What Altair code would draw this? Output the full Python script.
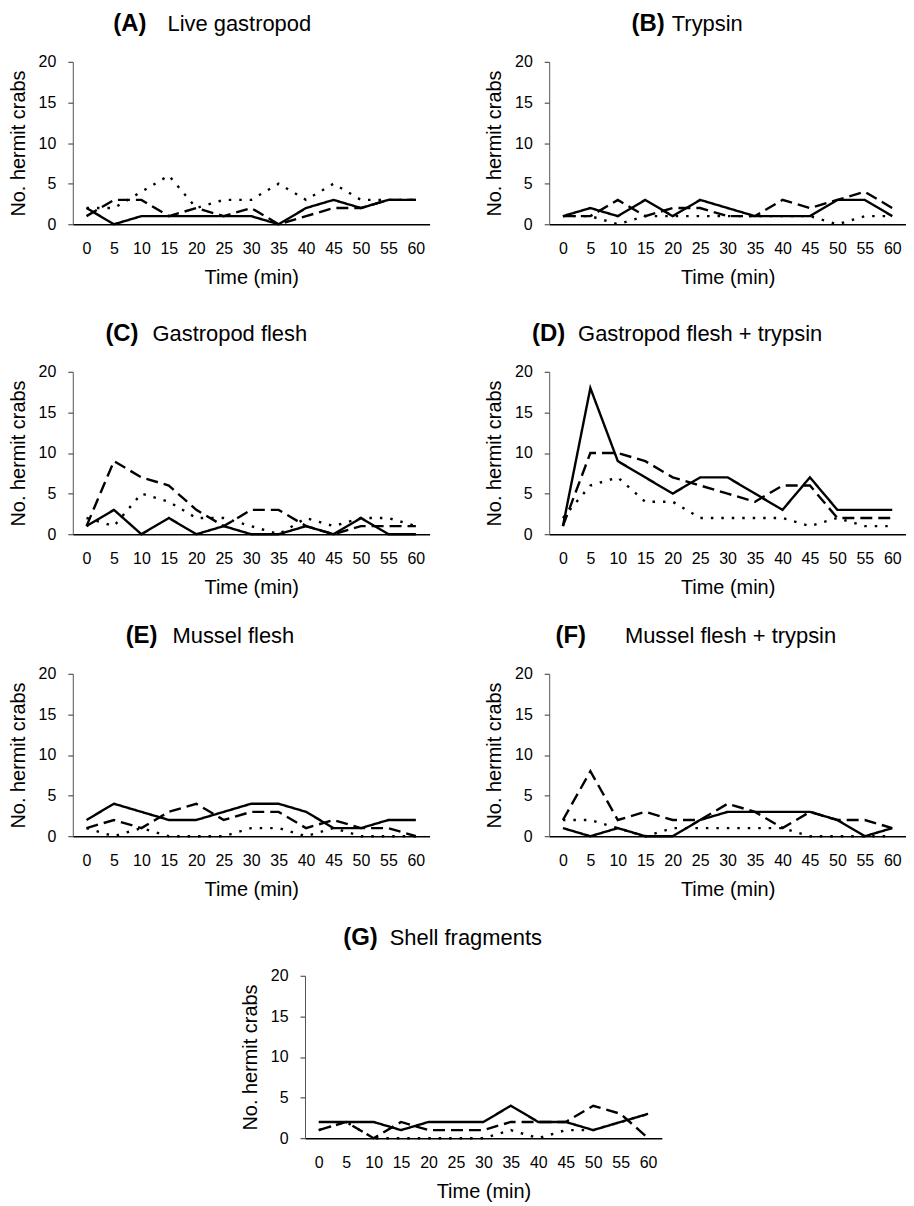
import altair as alt
import pandas as pd

times = [0, 5, 10, 15, 20, 25, 30, 35, 40, 45, 50, 55, 60]

# (A) Live gastropod
a_solid = [2, 0, 1, 1, 1, 1, 1, 0, 2, 3, 2, 3, 3]
a_dashed = [1, 3, 3, 1, 2, 1, 2, 0, 1, 2, 2, 3, 3]
a_dotted = [2, 2, 4, 6, 2, 3, 3, 5, 3, 5, 3, 3, 3]
# (B) Trypsin
b_solid = [1, 2, 1, 3, 1, 3, 2, 1, 1, 1, 3, 3, 1]
b_dashed = [1, 1, 3, 1, 2, 2, 1, 1, 3, 2, 3, 4, 2]
b_dotted = [1, 1, 0, 1, 1, 1, 1, 1, 1, 1, 0, 1, 1]
# (C) Gastropod flesh
c_solid = [1, 3, 0, 2, 0, 1, 0, 0, 1, 0, 2, 0, 0]
c_dashed = [1, 9, 7, 6, 3, 1, 3, 3, 1, 0, 1, 1, 1]
c_dotted = [2, 1, 5, 4, 2, 2, 1, 0, 2, 1, 2, 2, 1]
# (D) Gastropod flesh + trypsin
d_solid = [1, 18, 9, 7, 5, 7, 7, 5, 3, 7, 3, 3, 3]
d_dashed = [1, 10, 10, 9, 7, 6, 5, 4, 6, 6, 2, 2, 2]
d_dotted = [2, 6, 7, 4, 4, 2, 2, 2, 2, 1, 2, 1, 1]
# (E) Mussel flesh
e_solid = [2, 4, 3, 2, 2, 3, 4, 4, 3, 1, 1, 2, 2]
e_dashed = [1, 2, 1, 3, 4, 2, 3, 3, 1, 2, 1, 1, 0]
e_dotted = [1, 0, 1, 0, 0, 0, 1, 1, 0, 1, 0, 0, 0]
# (F) Mussel flesh + trypsin
f_solid = [1, 0, 1, 0, 0, 2, 3, 3, 3, 3, 2, 0, 1]
f_dashed = [2, 8, 2, 3, 2, 2, 4, 3, 1, 3, 2, 2, 1]
f_dotted = [2, 2, 1, 0, 1, 1, 1, 1, 1, 0, 0, 0, 0]
# (G) Shell fragments
g_solid = [2, 2, 2, 1, 2, 2, 2, 4, 2, 2, 1, 2, 3]
g_dashed = [1, 2, 0, 2, 1, 1, 1, 2, 2, 2, 4, 3, 0]
g_dotted = [1, 2, 0, 0, 0, 0, 0, 1, 0, 1, 1, 2, 3]

panel_letters = ["(A)", "(B)", "(C)", "(D)", "(E)", "(F)", "(G)"]
panel_names = ["Live gastropod", "Trypsin", "Gastropod flesh",
               "Gastropod flesh + trypsin", "Mussel flesh",
               "Mussel flesh + trypsin", "Shell fragments"]

FONT = "Liberation Sans"
series_names = ["solid", "dashed", "dotted"]


def panel(solid, dashed, dotted, letter, name, letter_right, name_left):
    rows = []
    for s, vals in zip(series_names, [solid, dashed, dotted]):
        for t, v in zip(times, vals):
            rows.append({"t": t, "v": v, "s": s})
    df = pd.DataFrame(rows)
    lines = alt.Chart(df).mark_line(color="black", strokeWidth=2.4, strokeCap="butt").encode(
        x=alt.X("t:O", sort=times, title="Time (min)",
                axis=alt.Axis(labelAngle=0, ticks=True, tickSize=0, labelPadding=16,
                              domainColor="black", domainWidth=1.5,
                              titlePadding=11)),
        y=alt.Y("v:Q", title="No. hermit crabs",
                scale=alt.Scale(domain=[0, 20], nice=False),
                axis=alt.Axis(values=[0, 5, 10, 15, 20], grid=False, tickSize=5,
                              labelPadding=12, titlePadding=10,
                              domainColor="#555555", tickColor="#333333")),
        strokeDash=alt.StrokeDash("s:N", scale=alt.Scale(domain=series_names,
                                  range=[[1, 0], [12, 6], [2.5, 8]]), legend=None),
        detail="s:N",
    )
    t1 = alt.Chart(pd.DataFrame({"lab": [letter]})).mark_text(
        font=FONT, fontSize=24, fontWeight="bold", align="right", baseline="middle"
    ).encode(text="lab:N", x=alt.value(letter_right), y=alt.value(-38))
    t2 = alt.Chart(pd.DataFrame({"lab": [name]})).mark_text(
        font=FONT, fontSize=22, align="left", baseline="middle"
    ).encode(text="lab:N", x=alt.value(name_left), y=alt.value(-38))
    return alt.layer(lines, t1, t2).properties(width=358, height=163)


pA = panel(a_solid, a_dashed, a_dotted, panel_letters[0], panel_names[0], 74, 95)
pB = panel(b_solid, b_dashed, b_dotted, panel_letters[1], panel_names[1], 116, 123)
pC = panel(c_solid, c_dashed, c_dotted, panel_letters[2], panel_names[2], 66, 80)
pD = panel(d_solid, d_dashed, d_dotted, panel_letters[3], panel_names[3], 16, 29)
pE = panel(e_solid, e_dashed, e_dotted, panel_letters[4], panel_names[4], 85, 100)
pF = panel(f_solid, f_dashed, f_dotted, panel_letters[5], panel_names[5], 37, 76)
pG = panel(g_solid, g_dashed, g_dotted, panel_letters[6], panel_names[6], 73, 85)

spacer = alt.Chart(pd.DataFrame({"a": [0]})).mark_point(opacity=0).encode(
    x=alt.value(0), y=alt.value(0)
).properties(width=168, height=10)

row1 = alt.hconcat(pA, pB, spacing=55)
row2 = alt.hconcat(pC, pD, spacing=55)
row3 = alt.hconcat(pE, pF, spacing=55)
row4 = alt.hconcat(spacer, pG, spacing=0)

top = alt.vconcat(row1, row2, spacing=35)
bottom = alt.vconcat(row3, row4, spacing=27)

chart = alt.vconcat(top, bottom, spacing=27).properties(
    padding={"left": 0, "top": 2, "right": 0, "bottom": 0}
).configure_view(stroke=None).configure_axis(
    labelFont=FONT, titleFont=FONT, labelFontSize=16, titleFontSize=20,
    labelColor="black", titleColor="black", titleFontWeight="normal"
)

chart.save("out.html", embed_options={"renderer": "svg", "actions": False})
